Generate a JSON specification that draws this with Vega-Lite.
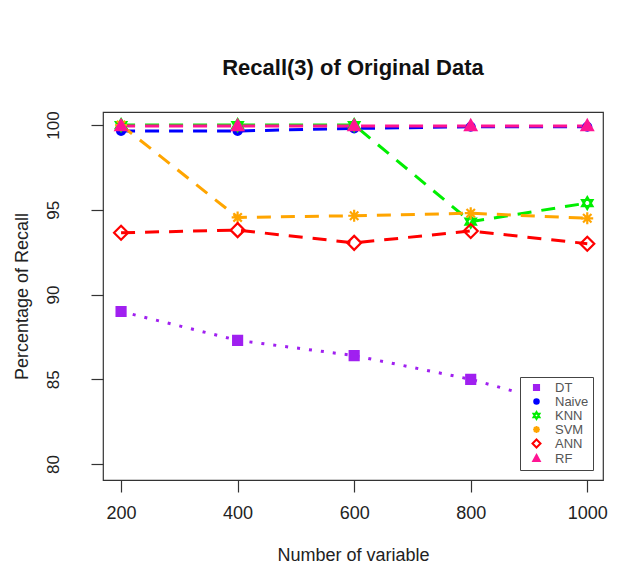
{
  "$schema": "https://vega.github.io/schema/vega-lite/v6.json",
  "width": 500,
  "height": 368,
  "autosize": {"type": "none"},
  "padding": {"left": 103, "top": 112, "right": 21, "bottom": 101},
  "background": "white",
  "title": {"text": "Recall(3) of Original Data", "fontSize": 22, "font": "Liberation Sans", "fontWeight": "bold", "color": "#111", "anchor": "middle", "baseline": "alphabetic", "offset": 14},
  "config": {
    "font": "Liberation Sans",
    "view": {"stroke": "#333", "strokeWidth": 1.2},
    "axis": {"grid": false, "domain": false, "tickColor": "#333", "tickWidth": 1.2, "tickSize": 12, "labelColor": "#222", "titleColor": "#222", "titleFontWeight": "normal", "labelFont": "Liberation Sans", "titleFont": "Liberation Sans"},
    "legend": {"orient": "bottom-right", "offset": 10, "fillColor": "white", "strokeColor": "#444", "padding": 4, "labelFontSize": 13, "labelColor": "#555", "labelFont": "Liberation Sans", "symbolSize": 64, "symbolStrokeWidth": 2, "symbolOffset": 6, "labelOffset": 12, "rowPadding": -2.5, "cornerRadius": 0}
  },
  "data": {"values": [
    {"model": "DT", "n": 200, "recall": 89.0},
    {"model": "DT", "n": 400, "recall": 87.3},
    {"model": "DT", "n": 600, "recall": 86.4},
    {"model": "DT", "n": 800, "recall": 85.0},
    {"model": "DT", "n": 1000, "recall": 83.1},
    {"model": "Naive", "n": 200, "recall": 99.65},
    {"model": "Naive", "n": 400, "recall": 99.65},
    {"model": "Naive", "n": 600, "recall": 99.8},
    {"model": "Naive", "n": 800, "recall": 99.9},
    {"model": "Naive", "n": 1000, "recall": 99.9},
    {"model": "KNN", "n": 200, "recall": 100.0},
    {"model": "KNN", "n": 400, "recall": 100.0},
    {"model": "KNN", "n": 600, "recall": 100.0},
    {"model": "KNN", "n": 800, "recall": 94.3},
    {"model": "KNN", "n": 1000, "recall": 95.4},
    {"model": "SVM", "n": 200, "recall": 100.0},
    {"model": "SVM", "n": 400, "recall": 94.55},
    {"model": "SVM", "n": 600, "recall": 94.65},
    {"model": "SVM", "n": 800, "recall": 94.8},
    {"model": "SVM", "n": 1000, "recall": 94.5},
    {"model": "ANN", "n": 200, "recall": 93.65},
    {"model": "ANN", "n": 400, "recall": 93.8},
    {"model": "ANN", "n": 600, "recall": 93.05},
    {"model": "ANN", "n": 800, "recall": 93.75},
    {"model": "ANN", "n": 1000, "recall": 93.0},
    {"model": "RF", "n": 200, "recall": 99.95},
    {"model": "RF", "n": 400, "recall": 99.95},
    {"model": "RF", "n": 600, "recall": 99.95},
    {"model": "RF", "n": 800, "recall": 99.95},
    {"model": "RF", "n": 1000, "recall": 99.95}
  ]},
  "encoding": {
    "x": {"field": "n", "type": "quantitative",
      "scale": {"domain": [169, 1027], "nice": false, "zero": false},
      "axis": {"values": [200, 400, 600, 800, 1000], "format": "d", "title": "Number of variable", "labelFontSize": 18, "titleFontSize": 18, "labelPadding": 12, "titlePadding": 24, "labelFlush": false}},
    "y": {"field": "recall", "type": "quantitative",
      "scale": {"domain": [79.06, 100.77], "nice": false, "zero": false},
      "axis": {"values": [80, 85, 90, 95, 100], "format": "d", "title": "Percentage of Recall", "labelFontSize": 17, "titleFontSize": 18, "labelAngle": -90, "labelAlign": "center", "labelBaseline": "bottom", "labelPadding": 29, "titlePadding": 13, "labelFlush": false}}
  },
  "layer": [
    {
      "transform": [{"filter": "datum.model === 'DT'"}],
      "mark": {"type": "line", "strokeWidth": 3, "strokeDash": [3, 9]},
      "encoding": {
        "stroke": {"field": "model", "type": "nominal",
          "scale": {"domain": ["DT", "Naive", "KNN", "SVM", "ANN", "RF"], "range": ["#A020F0", "#0000FF", "#00EE00", "#FFA500", "#FF0000", "#FF1493"]},
          "legend": {"title": null}}
      }
    },
    {
      "transform": [{"filter": "datum.model !== 'DT'"}],
      "mark": {"type": "line", "strokeWidth": 3, "strokeDash": [14, 10]},
      "encoding": {
        "stroke": {"field": "model", "type": "nominal", "legend": {"title": null}}
      }
    },
    {
      "mark": {"type": "point", "strokeWidth": 2.2, "opacity": 1},
      "encoding": {
        "size": {"value": 196},
        "shape": {"field": "model", "type": "nominal",
          "scale": {"domain": ["DT", "Naive", "KNN", "SVM", "ANN", "RF"], "range": [
            "M-0.64,-0.64H0.64V0.64H-0.64Z",
            "M-0.57,0A0.57,0.57 0 1,0 0.57,0A0.57,0.57 0 1,0 -0.57,0Z",
            "M0,-0.85L0.74,0.43L-0.74,0.43ZM0,0.85L0.74,-0.43L-0.74,-0.43Z",
            "M-0.85,0H0.85M0,-0.85V0.85M-0.6,-0.6L0.6,0.6M-0.6,0.6L0.6,-0.6",
            "M0,-1L1,0L0,1L-1,0Z",
            "M0,-0.85L0.8,0.6L-0.8,0.6Z"
          ]},
          "legend": {"title": null}},
        "stroke": {"field": "model", "type": "nominal", "legend": {"title": null}},
        "fill": {"field": "model", "type": "nominal",
          "scale": {"domain": ["DT", "Naive", "KNN", "SVM", "ANN", "RF"], "range": ["#A020F0", "#0000FF", "transparent", "transparent", "transparent", "#FF1493"]},
          "legend": {"title": null}}
      }
    }
  ]
}
